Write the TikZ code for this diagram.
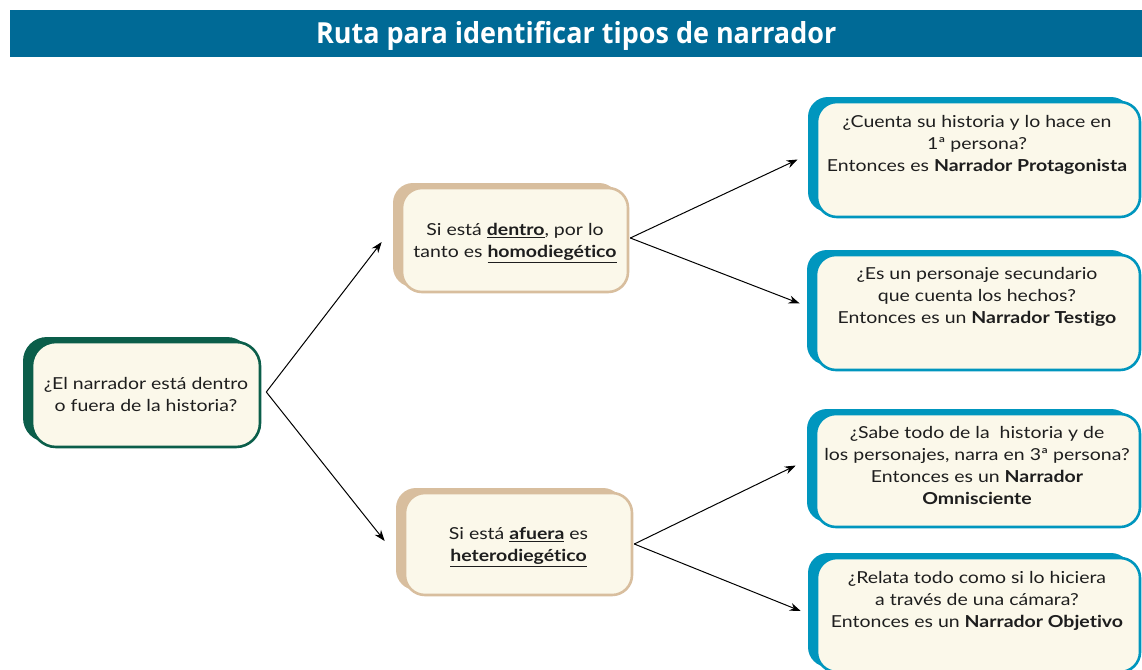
\documentclass[tikz,border=0pt]{standalone}
\usepackage{fontspec}
\setmainfont[FakeStretch=1.18,Ligatures=NoCommon]{Lato}
\newfontfamily\titlefont[FakeStretch=0.93]{Open Sans}
\usetikzlibrary{shadows,arrows.meta,calc}
\definecolor{barblue}{HTML}{006A96}
\definecolor{dkgreen}{HTML}{0B5E4A}
\definecolor{tan}{HTML}{D8BE9E}
\definecolor{boxblue}{HTML}{0096BE}
\definecolor{cream}{HTML}{FBF8EA}
\definecolor{txt}{HTML}{1E1E1E}
\tikzset{
  box/.style={rounded corners=20pt, fill=cream, line width=2.6pt, draw=#1,
    general shadow={shadow xshift=-9pt, shadow yshift=5pt, fill=#1},
    inner sep=0pt},
  txtnode/.style={align=center, text=txt, font=\fontsize{16.5}{21.7}\selectfont, inner sep=0pt},
  arr/.style={-{Stealth[length=11pt,width=8pt]}, line width=1pt, black}
}
\newcommand{\ulb}[1]{\underline{\textbf{#1}}}
\begin{document}
\begin{tikzpicture}[x=1pt,y=-1pt]
\useasboundingbox (0,0) rectangle (1142,669);
\clip (0,0) rectangle (1142,669);
\fill[white] (0,0) rectangle (1142,669);
% title bar
\node[fill=barblue, minimum width=1132pt, minimum height=47pt, anchor=north west, inner sep=0pt] (bar) at (10,10) {};
\node[text=white, font=\titlefont\bfseries\fontsize{29}{30}\selectfont] (title) at ([yshift=-2pt]bar.center) {Ruta para identificar tipos de narrador};
% boxes
\node[box=dkgreen, minimum width=228pt, minimum height=105pt, rounded corners=24pt] (q) at (146,394.5) {};
\node[txtnode] (qt) at (q.center) {¿El narrador está dentro\\o fuera de la historia?};
\node[box=tan, minimum width=226pt, minimum height=104pt] (m1) at (515,240) {};
\node[txtnode] (m1t) at (515,243) {Si está \ulb{dentro}, por lo\\tanto es \ulb{homodiegético}};
\node[box=tan, minimum width=227pt, minimum height=102pt] (m2) at (518.5,544) {};
\node[txtnode] (m2t) at (518.5,547) {Si está \ulb{afuera} es\\\ulb{heterodiegético}};
\node[box=boxblue, minimum width=323pt, minimum height=115pt] (r1) at (978.5,159.5) {};
\node[txtnode] (r1t) at (977,145) {¿Cuenta su historia y lo hace en\\1ª persona?\\Entonces es \textbf{Narrador Protagonista}};
\node[box=boxblue, minimum width=324pt, minimum height=115pt] (r2) at (978,312.5) {};
\node[txtnode] (r2t) at (977,297) {¿Es un personaje secundario\\que cuenta los hechos?\\Entonces es un \textbf{Narrador Testigo}};
\node[box=boxblue, minimum width=324pt, minimum height=113pt] (r3) at (978,470.5) {};
\node[txtnode] (r3t) at (977,465.5) {¿Sabe todo de la~ historia y de\\los personajes, narra en 3ª persona?\\Entonces es un \textbf{Narrador}\\\textbf{Omnisciente}};
\node[box=boxblue, minimum width=323pt, minimum height=114pt] (r4) at (978.5,615) {};
\node[txtnode] (r4t) at (977,601) {¿Relata todo como si lo hiciera\\a través de una cámara?\\Entonces es un \textbf{Narrador Objetivo}};
% arrows
\draw[arr] ([xshift=5pt,yshift=2.5pt]q.east) -- ([xshift=-19pt,yshift=-2pt]m1.west);
\draw[arr] ([xshift=5pt,yshift=2.5pt]q.east) -- ([xshift=-19pt,yshift=3pt]m2.west);
\draw[arr] ([xshift=1pt,yshift=2pt]m1.east) -- ([xshift=-18pt]r1.west);
\draw[arr] ([xshift=1pt,yshift=2pt]m1.east) -- ([xshift=-15pt,yshift=9pt]r2.west);
\draw[arr] ([xshift=1pt]m2.east) -- ([xshift=-19pt,yshift=5pt]r3.west);
\draw[arr] ([xshift=1pt]m2.east) -- ([xshift=-15pt,yshift=4pt]r4.west);
\end{tikzpicture}
\end{document}
